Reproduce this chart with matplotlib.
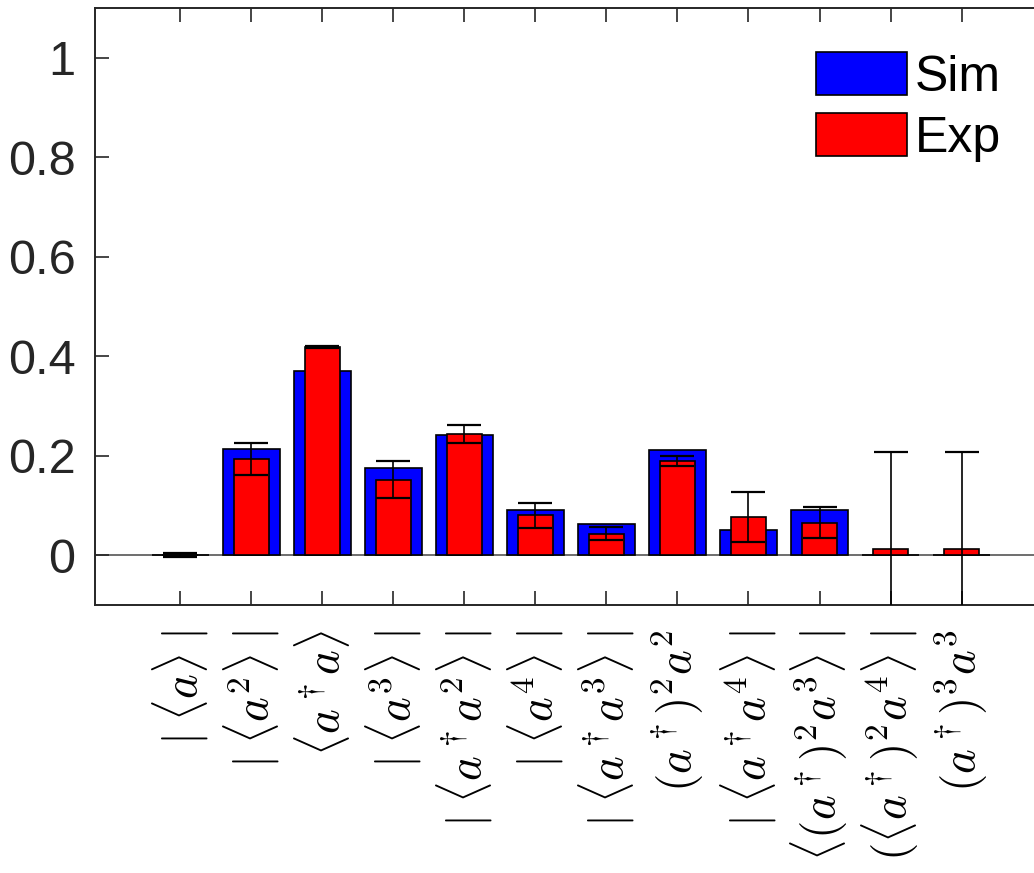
import matplotlib
matplotlib.use("Agg")
import matplotlib.pyplot as plt
import numpy as np

plt.rcParams['font.family'] = ['Liberation Sans', 'DejaVu Sans']
plt.rcParams['mathtext.fontset'] = 'cm'

# data
labels = [r'$|\;\langle a\rangle\;|$', r'$|\;\langle a^2\rangle\;|$', r'$\langle a^\dagger a\rangle$',
          r'$|\;\langle a^3\rangle\;|$', r'$|\;\langle a^\dagger a^2\rangle\;|$', r'$|\;\langle a^4\rangle\;|$',
          r'$|\;\langle a^\dagger a^3\rangle\;|$', r'$(a^\dagger)^2a^2$', r'$|\;\langle a^\dagger a^4\rangle\;|$',
          r'$|\;\langle (a^\dagger)^2a^3\rangle\;|$', r'$|\;(\langle a^\dagger)^2a^4\rangle\;|$',
          r'$(a^\dagger)^3a^3$']
sim = [0.0, 0.213, 0.371, 0.175, 0.242, 0.0905, 0.0624, 0.212, 0.0517, 0.0905, 0.0, 0.0]
exp_vals = [0.0005, 0.193, 0.418, 0.152, 0.244, 0.0805, 0.0436, 0.19, 0.077, 0.065, 0.0127, 0.0127]
exp_err = [0.005, 0.032, 0.002, 0.037, 0.018, 0.025, 0.013, 0.01, 0.05, 0.031, 0.194, 0.194]

x = np.arange(1, len(labels) + 1)
axc = '#262626'

fig = plt.figure(figsize=(10.34, 8.73), dpi=100)
ax = fig.add_axes([95 / 1034, 268 / 873, 966 / 1034, 597 / 873])

ax.axhline(0, color='#555555', lw=1.2, zorder=1)
ax.bar(x, sim, width=0.8, color='#0000ff', edgecolor='black', lw=1.2, label='Sim', zorder=2)
ax.bar(x, exp_vals, width=0.5, color='#ff0000', edgecolor='black', lw=1.2, label='Exp', zorder=3)
ax.errorbar(x, exp_vals, yerr=exp_err, fmt='none', ecolor='black', elinewidth=1.2,
            capsize=12, capthick=1.6, zorder=4)

ax.set_xlim(-0.2, 13.4)
ax.set_ylim(-0.1, 1.1)
ax.set_yticks([0, 0.2, 0.4, 0.6, 0.8, 1])
ax.set_yticklabels(['0', '0.2', '0.4', '0.6', '0.8', '1'])
ax.set_xticks(x)
ax.set_xticklabels(labels, rotation=90, va='top', ha='center', fontsize=34)
ax.tick_params(axis='y', direction='in', length=10, width=1.2, labelsize=35, pad=14,
               colors=axc, labelcolor=axc)
ax.tick_params(axis='x', direction='in', length=10, width=1.2, pad=18, colors=axc,
               labelcolor='black', top=True)
for s in ax.spines.values():
    s.set_color(axc)
    s.set_linewidth(1.4)

ax.legend(loc='upper left', bbox_to_anchor=(816 / 1034, 1 - 52 / 873), bbox_transform=fig.transFigure,
          frameon=False, fontsize=36, handlelength=1.82, handleheight=0.95, handletextpad=0.16,
          labelspacing=0.25, borderaxespad=0, borderpad=0)

fig.savefig('out.png', dpi=100)
